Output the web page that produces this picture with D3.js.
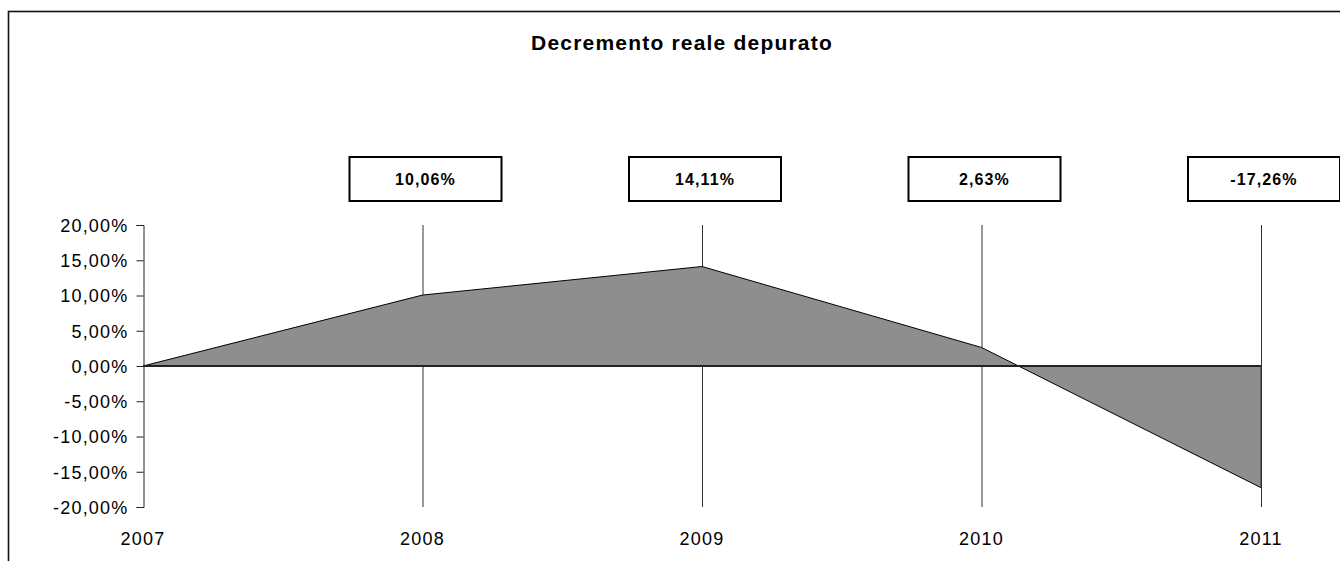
<!DOCTYPE html>
<html lang="it">
<head>
    <meta charset="UTF-8">
    <title>Decremento reale depurato</title>
    <script src="https://cdn.jsdelivr.net/npm/d3@7"></script>
    <style>
        body { margin: 0; background: #fff; }
        text { font-family: "Liberation Sans", Arial, sans-serif; }
    </style>
</head>
<body>
<script>

    var years = ["2007", "2008", "2009", "2010", "2011"];
    var values = [0, 10.06, 14.11, 2.63, -17.26];
    var labels = ["", "10,06%", "14,11%", "2,63%", "-17,26%"];
    var yTicks = [20, 15, 10, 5, 0, -5, -10, -15, -20];

    var width = 1340, height = 561;
    var margin = {top: 225, right: 79, bottom: 54, left: 143};

    var svg = d3.select("body").append("svg")
        .attr("width", width)
        .attr("height", height);

    // chart frame (runs off the right and bottom edge)
    svg.append("rect")
        .attr("x", 8.5).attr("y", 11.5)
        .attr("width", width).attr("height", height)
        .attr("fill", "none")
        .attr("stroke", "#111")
        .attr("stroke-width", 1.6);

    var x = d3.scalePoint()
        .domain(years)
        .range([margin.left, width - margin.right]);
    var y = d3.scaleLinear()
        .domain([-20, 20])
        .range([height - margin.bottom, margin.top]);

    // vertical category lines
    svg.append("g").selectAll("line")
        .data(years.slice(1))
        .join("line")
        .attr("x1", d => x(d) + 0.5).attr("x2", d => x(d) + 0.5)
        .attr("y1", y(20)).attr("y2", y(-20))
        .attr("stroke", "#333")
        .attr("stroke-width", 1);

    var data = years.map((d, i) => ({year: d, v: values[i]}));

    var area = d3.area()
        .x(d => x(d.year))
        .y0(y(0))
        .y1(d => y(d.v));
    var line = d3.line()
        .x(d => x(d.year))
        .y(d => y(d.v));

    svg.append("path")
        .datum(data)
        .attr("fill", "#8e8e8e")
        .attr("d", area);
    svg.append("path")
        .datum(data)
        .attr("fill", "none")
        .attr("stroke", "#000")
        .attr("stroke-width", 1)
        .attr("d", line);
    // right edge of the area at 2011
    svg.append("line")
        .attr("x1", x("2011")).attr("x2", x("2011"))
        .attr("y1", y(0)).attr("y2", y(values[4]))
        .attr("stroke", "#333");

    // zero line
    svg.append("line")
        .attr("x1", x("2007")).attr("x2", x("2011"))
        .attr("y1", y(0)).attr("y2", y(0))
        .attr("stroke", "#222")
        .attr("stroke-width", 2);

    // y axis
    var fmt = d3.format(".2f");
    var yAxis = d3.axisLeft(y)
        .tickValues(yTicks)
        .tickSize(7)
        .tickFormat(d => fmt(d).replace("−", "-").replace(".", ",") + "%");
    var ya = svg.append("g")
        .attr("transform", "translate(" + (margin.left + 0.5) + ",0)")
        .call(yAxis);
    ya.select(".domain").attr("stroke", "#222");
    ya.selectAll(".tick line").attr("stroke", "#222");
    ya.selectAll("text")
        .attr("font-size", "18px")
        .attr("letter-spacing", "1.2px")
        .attr("fill", "#000")
        .attr("x", -15)
        .attr("dy", "0.36em");

    // x labels
    svg.append("g").selectAll("text")
        .data(years)
        .join("text")
        .attr("x", d => x(d))
        .attr("y", 545)
        .attr("text-anchor", "middle")
        .attr("font-size", "18px")
        .attr("letter-spacing", "1.2px")
        .text(d => d);

    // value boxes
    var boxW = 152, boxH = 44;
    var boxes = svg.append("g").selectAll("g")
        .data(data.slice(1).map((d, i) => ({year: d.year, label: labels[i + 1]})))
        .join("g")
        .attr("transform", d => "translate(" + (x(d.year) - boxW / 2 + 3) + ",157)");
    boxes.append("rect")
        .attr("width", boxW).attr("height", boxH)
        .attr("fill", "#fff")
        .attr("stroke", "#000")
        .attr("stroke-width", 2);
    boxes.append("text")
        .attr("x", boxW / 2).attr("y", boxH / 2 + 6)
        .attr("text-anchor", "middle")
        .attr("font-size", "16px")
        .attr("letter-spacing", "1.1px")
        .attr("font-weight", "bold")
        .text(d => d.label);

    // title
    svg.append("text")
        .attr("x", 682)
        .attr("y", 50)
        .attr("text-anchor", "middle")
        .attr("font-size", "21px")
        .attr("letter-spacing", "1.2px")
        .attr("font-weight", "bold")
        .text("Decremento reale depurato");

</script>
</body>
</html>
